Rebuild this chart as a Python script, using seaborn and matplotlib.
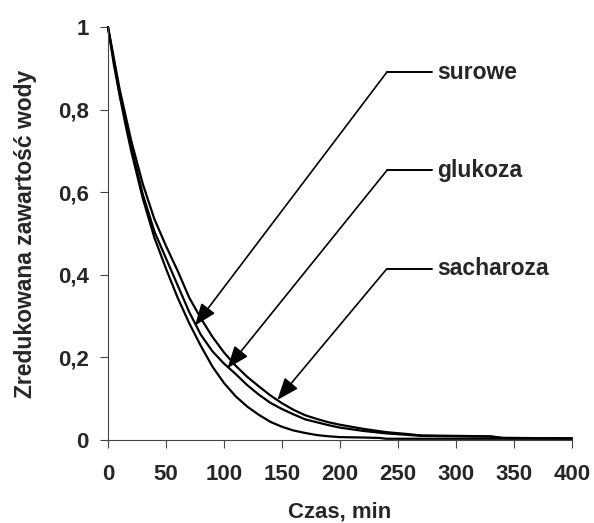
import numpy as np
import pandas as pd
import seaborn as sns
import matplotlib.pyplot as plt
from matplotlib.ticker import FuncFormatter

# czas suszenia [min] i zredukowana zawartosc wody dla trzech prob
t_surowe = [0, 5, 10, 15, 20, 30, 40, 50, 60, 70, 80, 90, 100, 110, 120, 130,
            140, 150, 160, 170, 180, 190, 200, 220, 234, 240, 300, 400]
y_surowe = [1.0, 0.91, 0.835, 0.765, 0.70, 0.585, 0.49, 0.415, 0.345, 0.283,
            0.228, 0.178, 0.138, 0.106, 0.081, 0.061, 0.044, 0.032, 0.023,
            0.017, 0.012, 0.009, 0.007, 0.006, 0.005, 0.003, 0.003, 0.003]

t_glukoza = [0, 10, 20, 30, 40, 50, 60, 70, 80, 90, 100, 110, 120, 130, 140,
             150, 160, 170, 180, 190, 200, 220, 240, 260, 270, 300, 330, 340, 400]
y_glukoza = [1.0, 0.84, 0.71, 0.595, 0.505, 0.44, 0.375, 0.31, 0.255, 0.215,
             0.185, 0.16, 0.133, 0.11, 0.09, 0.075, 0.062, 0.05, 0.043, 0.036,
             0.03, 0.022, 0.016, 0.012, 0.01, 0.009, 0.008, 0.005, 0.004]

t_sacharoza = [0, 10, 20, 30, 40, 50, 60, 70, 80, 90, 100, 110, 120, 130, 140,
               150, 160, 170, 180, 190, 200, 220, 240, 260, 270, 300, 330, 340, 400]
y_sacharoza = [1.0, 0.85, 0.725, 0.62, 0.535, 0.47, 0.41, 0.345, 0.295, 0.25,
               0.212, 0.18, 0.153, 0.13, 0.108, 0.089, 0.073, 0.06, 0.051, 0.043,
               0.037, 0.027, 0.019, 0.014, 0.011, 0.01, 0.009, 0.005, 0.004]

labels = ['surowe', 'glukoza', 'sacharoza']
# (koniec strzalki, poczatek linii odnosnika)
arrow_tips = [(75, 0.277), (103, 0.174), (146, 0.097)]
label_pos = [(240.5, 0.891), (240.5, 0.653), (240.5, 0.415)]

df = pd.concat([
    pd.DataFrame({'t': t_surowe, 'y': y_surowe, 'proba': 'surowe'}),
    pd.DataFrame({'t': t_glukoza, 'y': y_glukoza, 'proba': 'glukoza'}),
    pd.DataFrame({'t': t_sacharoza, 'y': y_sacharoza, 'proba': 'sacharoza'}),
])

sns.set_style('ticks')
plt.rcParams['font.family'] = ['Liberation Sans', 'DejaVu Sans']
plt.rcParams['font.weight'] = 'bold'
fs = 16

fig = plt.figure(figsize=(5.94, 5.23), dpi=100)
ax = fig.add_axes([0.1818, 0.1587, 0.7811, 0.7896])

sns.lineplot(data=df, x='t', y='y', units='proba', estimator=None,
             color='black', lw=1.6, ax=ax, legend=False, clip_on=False, sort=False)

for lab, tip, pos in zip(labels, arrow_tips, label_pos):
    ax.annotate('', xy=tip, xytext=pos,
                arrowprops=dict(arrowstyle='-|>,head_length=0.9,head_width=0.35',
                                color='black', lw=1.2, mutation_scale=15,
                                shrinkA=0, shrinkB=0))
    ax.plot([pos[0], pos[0] + 38.5], [pos[1], pos[1]], color='black', lw=1.4)
    ax.text(pos[0] + 43, pos[1], lab, fontsize=16.5, fontweight='bold',
            va='center', ha='left')

ax.set_xlim(0, 400)
ax.set_ylim(0, 1)
ax.set_xticks(np.arange(0, 401, 50))
ax.set_yticks([0, 0.2, 0.4, 0.6, 0.8, 1.0])
ax.yaxis.set_major_formatter(FuncFormatter(lambda v, p: f'{v:g}'.replace('.', ',')))
ax.tick_params(axis='both', labelsize=fs, length=6, width=0.8, color='#444444')
ax.tick_params(axis='x', pad=11)
ax.tick_params(axis='y', pad=8)
for lbl in ax.get_xticklabels() + ax.get_yticklabels():
    lbl.set_fontweight('bold')
sns.despine(ax=ax)
for s in ['left', 'bottom']:
    ax.spines[s].set_color('#444444')
    ax.spines[s].set_linewidth(0.8)

ax.set_xlabel('Czas, min', fontsize=fs, fontweight='bold', labelpad=12)
ax.set_ylabel('Zredukowana zawartość wody', fontsize=16.5, fontweight='bold', labelpad=15)

fig.savefig('out.png', dpi=100)
